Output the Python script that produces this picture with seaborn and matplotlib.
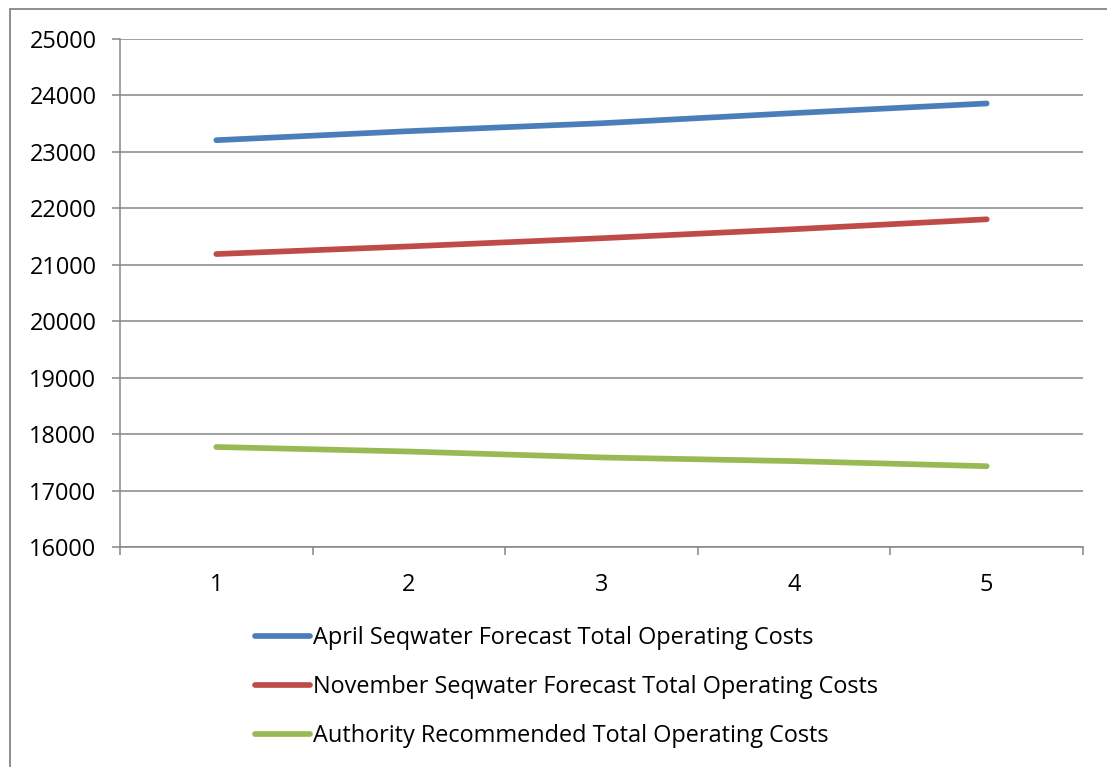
import matplotlib
matplotlib.use("Agg")
import matplotlib.pyplot as plt
from matplotlib.lines import Line2D
import seaborn as sns
import pandas as pd
import numpy as np

# ---- data ----
periods = [1, 2, 3, 4, 5]
april_forecast = [23200, 23360, 23500, 23680, 23850]
november_forecast = [21185, 21320, 21465, 21625, 21800]
authority_recommended = [17770, 17690, 17585, 17520, 17430]
series_names = [
    "April Seqwater Forecast Total Operating Costs",
    "November Seqwater Forecast Total Operating Costs",
    "Authority Recommended Total Operating Costs",
]
y_ticks = [16000, 17000, 18000, 19000, 20000, 21000, 22000, 23000, 24000, 25000]
colors = ["#4A7EBB", "#BE4B48", "#98B954"]

df = pd.DataFrame({
    "period": periods * 3,
    "value": april_forecast + november_forecast + authority_recommended,
    "series": [series_names[0]] * 5 + [series_names[1]] * 5 + [series_names[2]] * 5,
})

sns.set_theme(style="white")
plt.rcParams["font.family"] = ["Open Sans", "DejaVu Sans"]
plt.rcParams["text.color"] = "black"
FS = 16.9
grid_c = "#868686"
LW = 4.1

fig = plt.figure(figsize=(11.07, 7.67), dpi=100)
ax = fig.add_axes([120 / 1107, 1 - 547 / 767, (1083 - 120) / 1107, (547 - 38.5) / 767])

sns.lineplot(data=df, x="period", y="value", hue="series", hue_order=series_names,
             palette=colors, linewidth=LW, ax=ax, legend=False,
             solid_capstyle="round")

ax.set_xlim(0.5, 5.5)
ax.set_ylim(16000, 25000)
ax.set_yticks(y_ticks)
ax.set_yticklabels([str(v) for v in y_ticks], fontsize=FS, color="black")
ax.set_xticks(periods)
ax.set_xticklabels([str(p) for p in periods], fontsize=FS, color="black")
ax.set_xticks(np.arange(0.5, 6, 1.0), minor=True)
ax.tick_params(axis="x", which="both", bottom=True)
ax.tick_params(axis="y", which="both", left=True)
ax.tick_params(axis="x", which="major", length=0, pad=19)
ax.tick_params(axis="x", which="minor", length=5.5, width=1.1, color=grid_c, direction="out")
ax.tick_params(axis="y", which="major", length=5.5, width=1.1, color=grid_c, direction="out", pad=11.5)
ax.set_xlabel("")
ax.set_ylabel("")

ax.yaxis.grid(True, color=grid_c, linewidth=1.1)
ax.xaxis.grid(False)
ax.set_axisbelow(True)
for s in ["top", "right"]:
    ax.spines[s].set_visible(False)
for s in ["left", "bottom"]:
    ax.spines[s].set_color(grid_c)
    ax.spines[s].set_linewidth(1.1)

# outer chart border (top and left visible)
fig.add_artist(Line2D([10 / 1107, 10 / 1107], [1 - 9 / 767, 0], transform=fig.transFigure,
                      color=grid_c, linewidth=1.3))
fig.add_artist(Line2D([10 / 1107, 1.0], [1 - 9 / 767, 1 - 9 / 767], transform=fig.transFigure,
                      color=grid_c, linewidth=1.3))

handles = [Line2D([0], [0], color=c, linewidth=LW, solid_capstyle="round") for c in colors]
fig.legend(handles, series_names, loc="upper left", bbox_to_anchor=(255 / 1107, 1 - 626 / 767),
           frameon=False, fontsize=FS, handlelength=2.35, handletextpad=0.12,
           labelspacing=1.07, borderpad=0, borderaxespad=0)

fig.savefig("out.png", dpi=100, facecolor="white")
